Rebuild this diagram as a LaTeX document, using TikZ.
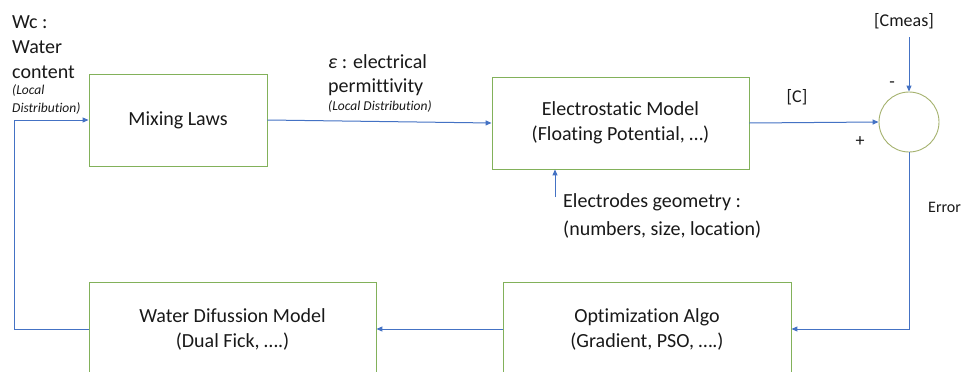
\documentclass[tikz,border=0pt]{standalone}
\usepackage{fontspec}
\setmainfont{Carlito}[Ligatures=NoCommon]
\usetikzlibrary{arrows.meta}
\definecolor{boxgreen}{RGB}{130,177,90}
\definecolor{circgreen}{RGB}{165,178,110}
\definecolor{arrowblue}{RGB}{68,114,196}
\definecolor{txt}{RGB}{25,25,25}
\begin{document}
\begin{tikzpicture}[x=1pt,y=-1pt,
  blk/.style={draw=boxgreen,line width=0.9pt,fill=white,inner sep=0pt,align=center,font=\fontsize{20}{25}\selectfont,text=txt},
  conn/.style={draw=arrowblue,line width=1pt},
  arr/.style={conn,-{Triangle[length=6pt,width=5pt]}},
  lbl/.style={inner sep=0pt,anchor=base west,font=\fontsize{20}{25}\selectfont,text=txt},
  lblm/.style={inner sep=0pt,anchor=base,font=\fontsize{18}{22}\selectfont,text=txt},
  sml/.style={inner sep=0pt,anchor=base west,font=\fontsize{13.5}{15}\selectfont\itshape,text=txt}]
\useasboundingbox (0,0) rectangle (962,372);
\clip (0,0) rectangle (962,372);
\fill[white] (0,0) rectangle (962,372);

% blocks
\node[blk,minimum width=178pt,minimum height=92pt] (mix) at (178,120) {Mixing Laws};
\node[blk,minimum width=257pt,minimum height=92pt] (elec) at (620.5,123) {Electrostatic Model\\(Floating Potential, …)};
\node[blk,minimum width=287pt,minimum height=94pt] (water) at (232.5,329) {Water Difussion Model\\(Dual Fick, ….)};
\node[blk,minimum width=288pt,minimum height=94pt] (opt) at (647,329) {Optimization Algo\\(Gradient, PSO, ….)};
\node[draw=circgreen,line width=0.9pt,circle,minimum size=60pt,inner sep=0pt] (sum) at (909,122) {};

% connectors
\draw[arr] (mix.east) -- (elec.west);
\draw[arr] (elec.east) -- (sum.west);
\coordinate (cm) at (909,37);
\draw[arr] (cm) -- (sum.north);
\coordinate (eg) at (555,197);
\draw[arr] (eg) -- (eg |- elec.south);
\draw[arr] (sum.south) |- (opt.east);
\draw[arr] (opt.west) -- (water.east);
\coordinate (lc) at (14,329);
\draw[arr] (water.west) -- (lc) |- (mix.west);

% labels
\node[lbl] (wc1) at (12,28) {Wc :};
\node[lbl] (wc2) at (12,53) {Water};
\node[lbl] (wc3) at (12,78) {content};
\node[sml] (wc4) at (12,94) {(Local};
\node[sml] (wc5) at (12,112) {Distribution)};

\node[lbl] (ep1) at (328,68) {{\itshape ε} : electrical};
\node[lbl] (ep2) at (328,92) {permittivity};
\node[sml] (ep3) at (328,110) {(Local Distribution)};

\node[lblm] (cmeas) at (904,27) {[Cmeas]};
\node[lblm] (cl) at (797,102) {[C]};
\node[lblm] (plus) at (860,146) {+};
\node[lblm] (minus) at (892,87) {-};

\node[lbl] (eg1) at (563,207) {Electrodes geometry :};
\node[lbl] (eg2) at (563,235) {(numbers, size, location)};

\node[lbl,font=\fontsize{16}{20}\selectfont] (err) at (928,212) {Error};
\end{tikzpicture}
\end{document}
